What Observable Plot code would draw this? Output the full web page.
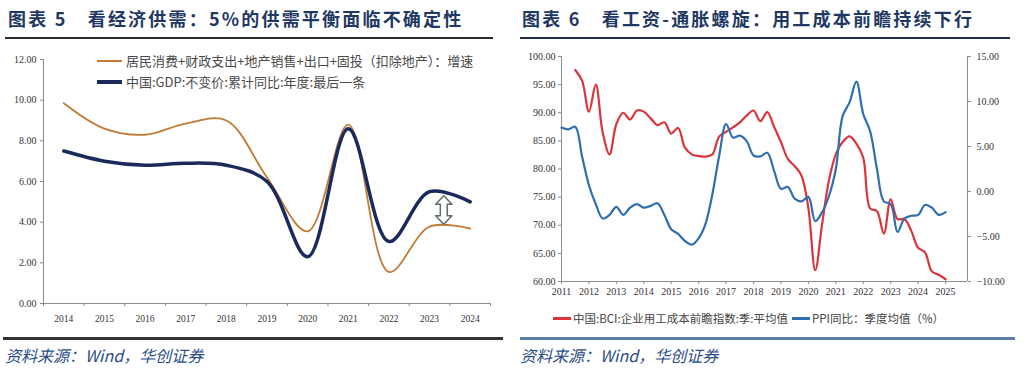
<!DOCTYPE html>
<html><head><meta charset="utf-8">
<script src="https://cdn.jsdelivr.net/npm/d3@7"></script>
<script src="https://cdn.jsdelivr.net/npm/@observablehq/plot@0.6"></script>
<style>
body{margin:0;background:#fff;width:1024px;height:376px;overflow:hidden;position:relative;font-family:"Noto Sans CJK SC","Noto Sans",sans-serif}
.abs{position:absolute}
.title{font-weight:700;font-size:18px;line-height:26px;color:#1f3864;letter-spacing:2.2px;white-space:nowrap;top:5px}
.src{font-style:italic;color:#2a4d86;font-size:16px;line-height:22px;top:344px;white-space:nowrap}
.leg{font-size:13px;line-height:18px;color:#4a4a4a;white-space:nowrap;display:flex;align-items:center}
.sw{display:inline-block;margin-right:4px}
.rleg{font-size:11.5px;line-height:16px;color:#444;white-space:nowrap;display:flex;align-items:center;top:310px;left:553px}
</style></head><body>
<div class="abs title" style="left:8px">图表 5　看经济供需：5%的供需平衡面临不确定性</div>
<div class="abs title" style="left:522px">图表 6　看工资-通胀螺旋：用工成本前瞻持续下行</div>
<div class="abs" style="left:5px;top:37px;width:488px;height:2px;background:#2b2b2b"></div>
<div class="abs" style="left:520px;top:37px;width:490px;height:2px;background:#1f2d4a"></div>
<div id="left" class="abs" style="left:0;top:40px"></div>
<div id="right" class="abs" style="left:518px;top:40px"></div>
<div class="abs leg" style="left:97px;top:52px"><span class="sw" style="width:25px;height:2px;background:#c27a36"></span><span id="lg1"></span></div>
<div class="abs leg" style="left:97px;top:73px"><span class="sw" style="width:25px;height:4px;background:#1b2a5c"></span><span id="lg2"></span></div>
<div class="abs rleg"><span class="sw" style="width:18px;height:3px;background:#d9353d;margin-right:2px"></span><span id="lg3"></span><span class="sw" style="width:18px;height:3px;background:#2f6fb0;margin-left:4px;margin-right:2px"></span><span id="lg4"></span></div>
<div class="abs" style="left:3px;top:337px;width:500px;height:3px;background:#333"></div>
<div class="abs" style="left:520px;top:337px;width:495px;height:3px;background:#5b7fa8"></div>
<div class="abs src" style="left:5px">资料来源：Wind，华创证券</div>
<div class="abs src" style="left:520px">资料来源：Wind，华创证券</div>
<script>
// ---------- Left chart data ----------
const years = [2014, 2015, 2016, 2017, 2018, 2019, 2020, 2021, 2022, 2023, 2024];
const demandGrowth = [9.85, 8.6, 8.3, 8.85, 9.0, 6.2, 3.55, 8.8, 1.55, 3.78, 3.68];
const gdpGrowth = [7.5, 7.0, 6.8, 6.9, 6.8, 6.0, 2.3, 8.6, 3.05, 5.5, 5.0];
const leftYTicks = [0, 2, 4, 6, 8, 10, 12];
const leftSeriesNames = ["居民消费+财政支出+地产销售+出口+固投（扣除地产）：增速", "中国:GDP:不变价:累计同比:年度:最后一条"];
const arrowNote = {year: 2023.35, top: 5.3, bottom: 3.9};

// ---------- Right chart data ----------
const bciDates = [2011.5, 2011.75, 2012, 2012.25, 2012.5, 2012.75, 2013, 2013.25, 2013.5, 2013.75,
  2014, 2014.25, 2014.5, 2014.75, 2015, 2015.25, 2015.5, 2015.75, 2016, 2016.25, 2016.5, 2016.75,
  2017, 2017.25, 2017.5, 2017.75, 2018, 2018.25, 2018.5, 2018.75, 2019, 2019.25, 2019.5, 2019.75,
  2020, 2020.25, 2020.5, 2020.75, 2021, 2021.25, 2021.5, 2021.75, 2022, 2022.25, 2022.5, 2022.75,
  2023, 2023.25, 2023.5, 2023.75, 2024, 2024.25, 2024.5, 2024.75, 2025];
const bciValues = [97.6, 95.7, 90.2, 95.0, 86.5, 82.6, 88.0, 90.0, 88.8, 90.4,
  90.2, 89.0, 87.8, 88.3, 86.3, 87.3, 83.8, 82.6, 82.3, 82.2, 82.6, 85.8,
  86.6, 87.4, 88.3, 89.5, 90.4, 88.5, 90.1, 87.5, 84.8, 81.8, 80.5, 78.8,
  73.0, 62.0, 70.2, 78.0, 82.6, 84.8, 85.8, 84.5, 82.0, 73.0, 72.5, 68.5,
  74.6, 71.1, 71.1, 69.0, 66.0, 65.2, 61.8, 61.2, 60.4];
const ppiDates = [2011, 2011.25, 2011.5, 2011.75, 2012, 2012.25, 2012.5, 2012.75, 2013, 2013.25, 2013.5, 2013.75,
  2014, 2014.25, 2014.5, 2014.75, 2015, 2015.25, 2015.5, 2015.75, 2016, 2016.25, 2016.5, 2016.75,
  2017, 2017.25, 2017.5, 2017.75, 2018, 2018.25, 2018.5, 2018.75, 2019, 2019.25, 2019.5, 2019.75,
  2020, 2020.25, 2020.5, 2020.75, 2021, 2021.25, 2021.5, 2021.75, 2022, 2022.25, 2022.5, 2022.75,
  2023, 2023.25, 2023.5, 2023.75, 2024, 2024.25, 2024.5, 2024.75, 2025];
const ppiValues = [7.1, 6.9, 7.2, 3.9, 0.7, -1.4, -3.0, -2.6, -1.7, -2.6, -1.8, -1.4,
  -1.8, -1.6, -1.3, -2.6, -4.2, -4.7, -5.5, -5.9, -5.2, -3.6, -0.3, 4.0,
  7.5, 6.0, 6.2, 5.6, 4.0, 3.9, 4.3, 2.3, 0.3, 0.5, -0.8, -1.1,
  -0.6, -3.3, -2.3, -0.5, 2.5, 8.4, 9.9, 12.2, 8.6, 6.7, 2.5, -1.1,
  -1.4, -4.5, -3.0, -2.7, -2.6, -1.5, -1.8, -2.6, -2.3];
const rightYTicks = [60, 65, 70, 75, 80, 85, 90, 95, 100];
const ppiTicks = [-10, -5, 0, 5, 10, 15];
const xYears = [2011, 2012, 2013, 2014, 2015, 2016, 2017, 2018, 2019, 2020, 2021, 2022, 2023, 2024, 2025];
const rightSeriesNames = ["中国:BCI:企业用工成本前瞻指数:季:平均值", "PPI同比：季度均值（%）"];

document.getElementById("lg1").textContent = leftSeriesNames[0];
document.getElementById("lg2").textContent = leftSeriesNames[1];
document.getElementById("lg3").textContent = rightSeriesNames[0];
document.getElementById("lg4").textContent = rightSeriesNames[1];

const fmt2 = d3.format(".2f");
const axisGray = "#8c8c8c";
const baseStyle = {fontFamily: "'Liberation Serif', 'DejaVu Serif', serif", fontSize: "10px", color: "#333", background: "transparent", overflow: "visible"};

// ---------- Left chart ----------
const leftRows = years.map((y, i) => ({year: y, demand: demandGrowth[i], gdp: gdpGrowth[i]}));
const xLo = years[0] - 0.5, xHi = years[years.length - 1] + 0.5;
const bounds = d3.range(years.length + 1).map(i => xLo + i);
// hollow double arrow polygon built from the annotation values
const hw = 0.2, sw = 0.085, hl = 0.42;
const a = arrowNote;
const arrowPoly = [
  [a.year, a.top], [a.year + hw, a.top - hl], [a.year + sw, a.top - hl], [a.year + sw, a.bottom + hl],
  [a.year + hw, a.bottom + hl], [a.year, a.bottom], [a.year - hw, a.bottom + hl], [a.year - sw, a.bottom + hl],
  [a.year - sw, a.top - hl], [a.year - hw, a.top - hl]
].map(([x, y]) => ({x, y}));

const left = Plot.plot({
  width: 505, height: 295,
  marginTop: 19, marginBottom: 32, marginLeft: 43, marginRight: 15,
  style: baseStyle,
  x: {domain: [xLo, xHi], label: null},
  y: {domain: [0, 12], label: null},
  marks: [
    Plot.ruleY([0], {stroke: axisGray}),
    Plot.ruleX([xLo], {stroke: axisGray}),
    Plot.axisY({ticks: leftYTicks, tickFormat: fmt2, tickSize: 3, tickPadding: 4, stroke: axisGray, fontSize: 10, label: null}),
    Plot.axisX({ticks: years, tickFormat: d3.format("d"), tickSize: 0, tickPadding: 12, fontSize: 9.5, label: null}),
    Plot.axisX({ticks: bounds, tickFormat: () => "", tickSize: 3, stroke: axisGray, label: null}),
    Plot.line(leftRows, {x: "year", y: "demand", stroke: "#c27a36", strokeWidth: 1.8, curve: "catmull-rom"}),
    Plot.line(leftRows, {x: "year", y: "gdp", stroke: "#1b2a5c", strokeWidth: 3.5, curve: "catmull-rom"}),
    Plot.line(arrowPoly, {x: "x", y: "y", curve: "linear-closed", fill: "white", stroke: "#5f6d6d", strokeWidth: 1.5})
  ]
});
document.getElementById("left").appendChild(left);

// ---------- Right chart ----------
const yLo = 60, yHi = 100, pLo = -10, pHi = 15;
const toLeft = v => yLo + (v - pLo) * (yHi - yLo) / (pHi - pLo);
const fromLeft = v => pLo + (v - yLo) * (pHi - pLo) / (yHi - yLo);
const bciRows = bciDates.map((d, i) => ({t: d, v: bciValues[i]}));
const ppiRows = ppiDates.map((d, i) => ({t: d, v: toLeft(ppiValues[i])}));
const xEnd = 2025.8;

const right = Plot.plot({
  width: 506, height: 270,
  marginTop: 16, marginBottom: 29, marginLeft: 43, marginRight: 57,
  style: baseStyle,
  x: {domain: [2011, xEnd], label: null},
  y: {domain: [yLo, yHi], label: null},
  marks: [
    Plot.ruleY([yLo], {stroke: axisGray}),
    Plot.ruleX([2011], {stroke: axisGray}),
    Plot.ruleX([xEnd], {stroke: axisGray}),
    Plot.axisY({ticks: rightYTicks, tickFormat: fmt2, tickSize: 3, tickPadding: 3, stroke: axisGray, fontSize: 10, label: null}),
    Plot.axisY({anchor: "right", ticks: ppiTicks.map(toLeft), tickFormat: d => fmt2(Math.round(fromLeft(d) * 100) / 100), tickSize: 3, tickPadding: 6, stroke: axisGray, fontSize: 10, label: null}),
    Plot.axisX({ticks: xYears, tickFormat: d3.format("d"), tickSize: 3, tickPadding: 3, stroke: axisGray, fontSize: 10, label: null}),
    Plot.line(bciRows, {x: "t", y: "v", stroke: "#d9353d", strokeWidth: 2.2, curve: "catmull-rom"}),
    Plot.line(ppiRows, {x: "t", y: "v", stroke: "#2f6fb0", strokeWidth: 2.2, curve: "catmull-rom"})
  ]
});
document.getElementById("right").appendChild(right);
</script>
</body></html>
